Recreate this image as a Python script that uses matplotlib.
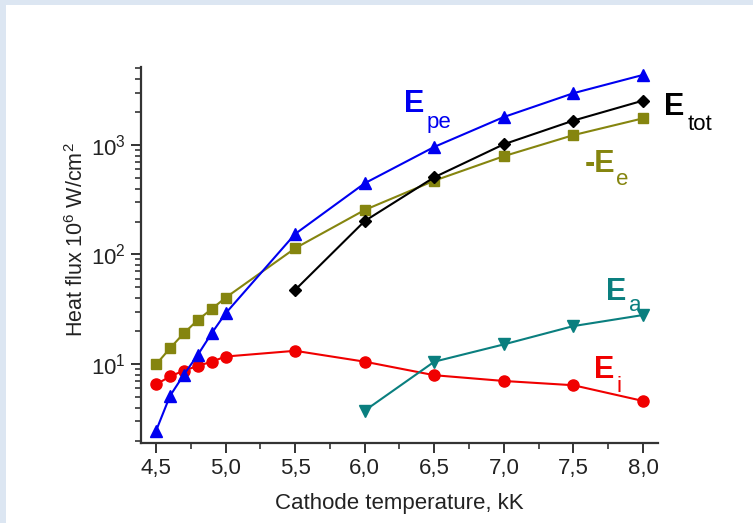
import matplotlib
matplotlib.use("Agg")
import matplotlib.pyplot as plt
from matplotlib.patches import Rectangle
from matplotlib.ticker import LogLocator, MultipleLocator, FixedLocator, NullFormatter

plt.rcParams['font.family'] = ['Liberation Sans', 'DejaVu Sans']
plt.rcParams['mathtext.fontset'] = 'custom'
plt.rcParams['mathtext.rm'] = 'Liberation Sans'
plt.rcParams['mathtext.it'] = 'Liberation Sans:italic'
plt.rcParams['mathtext.bf'] = 'Liberation Sans:bold'

# Heat flux components vs cathode temperature (kK), in 10^6 W/cm^2
t_full = [4.5, 4.6, 4.7, 4.8, 4.9, 5.0, 5.5, 6.0, 6.5, 7.0, 7.5, 8.0]
e_pe = [2.45, 5.1, 8.0, 12.1, 19.1, 29.0, 154, 447, 960, 1800, 2970, 4360]
e_e = [9.9, 13.9, 19.1, 25.2, 31.8, 40.3, 114, 255, 472, 790, 1230, 1750]
e_i = [6.5, 7.7, 8.7, 9.6, 10.5, 11.7, 13.2, 10.5, 7.9, 7.0, 6.4, 4.6]

t_tot = [5.5, 6.0, 6.5, 7.0, 7.5, 8.0]
e_tot = [47.5, 202, 507, 1015, 1670, 2540]

t_a = [6.0, 6.5, 7.0, 7.5, 8.0]
e_a = [3.75, 10.5, 15.1, 22.2, 28.0]

x_ticks = [4.5, 5.0, 5.5, 6.0, 6.5, 7.0, 7.5, 8.0]
x_ticklabels = ['4,5', '5,0', '5,5', '6,0', '6,5', '7,0', '7,5', '8,0']

W, H = 753, 523
fig = plt.figure(figsize=(W / 100, H / 100), dpi=100)
fig.patch.set_facecolor('#dce6f2')
fig.patches.append(Rectangle((6 / W, 0), 1, 1 - 5 / H, transform=fig.transFigure,
                             facecolor='white', edgecolor='none', zorder=-10))

ax = fig.add_axes([141 / W, 1 - 443 / H, (658 - 141) / W, (443 - 67) / H])
ax.set_facecolor('none')

lw = 1.5
ax.plot(t_full, e_e, color='#85850f', lw=lw, marker='s', ms=6.5, zorder=3)
ax.plot(t_full, e_i, color='#f00000', lw=lw, marker='o', ms=8, zorder=3)
ax.plot(t_a, e_a, color='#0a7f7f', lw=lw, marker='v', ms=8, zorder=3)
ax.plot(t_tot, e_tot, color='black', lw=lw, marker='D', ms=6.5, zorder=4)
ax.plot(t_full, e_pe, color='#0000f0', lw=lw, marker='^', ms=8.5, zorder=5)

ax.set_yscale('log')
ax.set_xlim(4.392, 8.108)
ax.set_ylim(1.90, 5150)

ax.xaxis.set_major_locator(FixedLocator(x_ticks))
ax.set_xticklabels(x_ticklabels)
ax.xaxis.set_minor_locator(MultipleLocator(0.25))
ax.yaxis.set_major_locator(LogLocator(base=10, numticks=10))
ax.yaxis.set_minor_locator(LogLocator(base=10, subs=range(2, 10), numticks=20))
ax.yaxis.set_minor_formatter(NullFormatter())

for side in ('top', 'right'):
    ax.spines[side].set_visible(False)
for side in ('left', 'bottom'):
    ax.spines[side].set_linewidth(1.6)
    ax.spines[side].set_color('#333333')

ax.tick_params(which='major', direction='out', length=7, width=1.4, color='#333333',
               labelsize=16, labelcolor='#222222', pad=4)
ax.tick_params(which='minor', direction='out', length=4, width=1.2, color='#333333')

ax.set_xlabel('Cathode temperature, kK', fontsize=16, color='#222222', labelpad=10)
fig.text(77 / W, 1 - 240 / H, r'Heat flux 10$^6$ W/cm$^2$', fontsize=15.5,
         color='#222222', rotation=90, ha='center', va='center')


def series_label(x, y, main, sub, color, sub_dx, sub_dy):
    """Bold symbol with a regular subscript, placed in figure pixels."""
    fig.text(x / W, 1 - y / H, main, color=color, fontsize=22, fontweight='bold',
             ha='left', va='baseline')
    fig.text((x + sub_dx) / W, 1 - (y + sub_dy) / H, sub, color=color, fontsize=16,
             ha='left', va='baseline')


series_label(404, 112, 'E', 'pe', '#0000f0', 23, 16)
series_label(664, 115, 'E', 'tot', 'black', 24, 15)
series_label(585, 172, '-E', 'e', '#85850f', 31, 13)
series_label(606, 300, 'E', 'a', '#0a7f7f', 23, 11)
series_label(594, 378, 'E', 'i', '#f00000', 23, 14)

fig.savefig('out.png', dpi=100)
